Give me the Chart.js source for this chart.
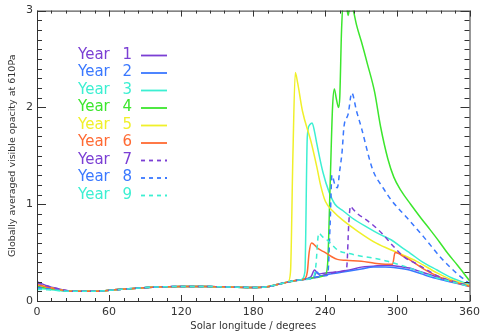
<!DOCTYPE html>
<html>
<head>
<meta charset="utf-8">
<script src="https://cdn.jsdelivr.net/npm/chart.js@4/dist/chart.umd.min.js"></script>
<style>
  html, body { margin: 0; padding: 0; background: #ffffff; }
  #wrap { width: 485px; height: 333px; position: relative; }
</style>
</head>
<body>
<div id="wrap"><canvas id="opacityChart"></canvas></div>
<script>
// Solar longitude (degrees) and opacity for each Mars year
const ls1 = [0, 10, 20, 30, 45, 60, 80, 100, 120, 140, 160, 180, 190, 200, 210, 220, 228, 231, 234, 240, 250, 260, 270, 280, 290, 300, 310, 320, 330, 340, 350, 360];
const op1 = [0.2, 0.15, 0.12, 0.1, 0.1, 0.11, 0.13, 0.145, 0.15, 0.15, 0.145, 0.14, 0.145, 0.17, 0.2, 0.22, 0.25, 0.32, 0.28, 0.29, 0.3, 0.32, 0.35, 0.36, 0.37, 0.36, 0.34, 0.3, 0.26, 0.22, 0.19, 0.16];

const ls2 = [0, 10, 20, 30, 45, 60, 80, 100, 120, 140, 160, 180, 190, 200, 210, 220, 230, 233, 236, 240, 250, 260, 270, 280, 290, 300, 310, 320, 330, 340, 350, 360];
const op2 = [0.15, 0.13, 0.11, 0.1, 0.1, 0.11, 0.13, 0.145, 0.15, 0.15, 0.145, 0.14, 0.145, 0.17, 0.2, 0.22, 0.24, 0.3, 0.26, 0.27, 0.29, 0.31, 0.33, 0.35, 0.35, 0.34, 0.32, 0.28, 0.24, 0.21, 0.18, 0.15];

const ls3 = [0, 10, 20, 30, 45, 60, 80, 100, 120, 140, 160, 180, 190, 200, 210, 220, 223, 225, 227, 229, 231, 233, 238, 243, 248, 255, 262, 275, 285, 295, 305, 311, 320, 333, 345, 360];
const op3 = [0.13, 0.12, 0.105, 0.1, 0.1, 0.11, 0.13, 0.145, 0.15, 0.15, 0.145, 0.14, 0.145, 0.17, 0.2, 0.22, 0.3, 1.7, 1.82, 1.84, 1.75, 1.62, 1.33, 1.13, 1.0, 0.93, 0.86, 0.76, 0.69, 0.63, 0.54, 0.49, 0.41, 0.32, 0.24, 0.17];

const ls4 = [0, 10, 20, 30, 45, 60, 80, 100, 120, 140, 160, 180, 190, 200, 210, 220, 230, 240, 242, 244, 246, 247.5, 249, 251, 252, 253.5, 255, 257, 259, 261, 263, 266, 270, 275, 281, 286, 292, 297, 303, 311, 320, 327, 335, 342, 350, 355, 360];
const op4 = [0.15, 0.13, 0.11, 0.1, 0.1, 0.11, 0.13, 0.145, 0.15, 0.15, 0.145, 0.14, 0.145, 0.17, 0.2, 0.22, 0.24, 0.27, 0.4, 1.2, 2.0, 2.19, 2.1, 2.0, 2.1, 2.8, 3.1, 3.1, 2.95, 3.1, 3.02, 2.85, 2.68, 2.45, 2.16, 1.8, 1.47, 1.28, 1.14, 1.0, 0.85, 0.74, 0.61, 0.49, 0.37, 0.29, 0.21];

const ls5 = [0, 10, 20, 30, 45, 60, 80, 100, 120, 140, 160, 180, 190, 200, 209, 211, 213, 215, 217, 221, 228, 233, 236, 240, 247, 254, 267, 282, 300, 316, 333, 345, 360];
const op5 = [0.17, 0.14, 0.115, 0.1, 0.1, 0.11, 0.13, 0.145, 0.15, 0.15, 0.145, 0.14, 0.145, 0.17, 0.2, 0.3, 1.5, 2.36, 2.25, 1.96, 1.65, 1.38, 1.2, 1.03, 0.92, 0.84, 0.72, 0.6, 0.5, 0.41, 0.29, 0.22, 0.16];

const ls6 = [0, 10, 20, 30, 45, 60, 80, 100, 120, 140, 160, 180, 190, 200, 210, 220, 223, 225, 226.5, 228.5, 234, 240, 245, 250, 257, 270, 281, 290, 296, 298, 301, 305, 311, 322, 333, 344, 360];
const op6 = [0.17, 0.14, 0.115, 0.1, 0.1, 0.11, 0.13, 0.145, 0.15, 0.15, 0.145, 0.14, 0.145, 0.17, 0.2, 0.22, 0.23, 0.3, 0.5, 0.6, 0.54, 0.5, 0.46, 0.43, 0.42, 0.41, 0.39, 0.38, 0.38, 0.5, 0.49, 0.46, 0.42, 0.33, 0.26, 0.21, 0.15];

const ls7 = [0, 10, 20, 30, 45, 60, 80, 100, 120, 140, 160, 180, 190, 200, 210, 220, 230, 240, 250, 257, 258, 259.5, 261, 263, 267, 275, 281, 287, 297, 306, 315, 322, 335, 350, 360];
const op7 = [0.19, 0.15, 0.12, 0.1, 0.1, 0.11, 0.13, 0.145, 0.15, 0.15, 0.145, 0.14, 0.145, 0.17, 0.2, 0.22, 0.24, 0.27, 0.3, 0.32, 0.37, 0.8, 0.98, 0.95, 0.9, 0.83, 0.77, 0.7, 0.56, 0.45, 0.39, 0.34, 0.25, 0.19, 0.16];

const ls8 = [0, 10, 20, 30, 45, 60, 80, 100, 120, 140, 160, 180, 190, 200, 210, 220, 230, 240, 242, 244, 245.5, 248, 250, 252, 254, 255.5, 259, 262, 266, 270, 278, 281, 288, 295, 308, 322, 336, 349, 360];
const op8 = [0.14, 0.125, 0.11, 0.1, 0.1, 0.11, 0.13, 0.145, 0.15, 0.15, 0.145, 0.14, 0.145, 0.17, 0.2, 0.22, 0.24, 0.26, 0.27, 0.8, 1.3, 1.2, 1.17, 1.35, 1.55, 1.8, 1.93, 2.15, 1.96, 1.79, 1.41, 1.31, 1.17, 1.04, 0.86, 0.66, 0.45, 0.29, 0.18];

const ls9 = [0, 10, 20, 30, 45, 60, 80, 100, 120, 140, 160, 180, 190, 200, 210, 220, 230, 232, 234.5, 238, 241.5, 251, 260, 267, 281, 292, 303, 315, 330, 345, 360];
const op9 = [0.12, 0.115, 0.105, 0.1, 0.1, 0.11, 0.13, 0.145, 0.15, 0.15, 0.145, 0.14, 0.145, 0.17, 0.2, 0.22, 0.24, 0.35, 0.7, 0.66, 0.63, 0.52, 0.49, 0.47, 0.44, 0.41, 0.37, 0.32, 0.25, 0.2, 0.15];

const yearLabels = ['Year 1', 'Year 2', 'Year 3', 'Year 4', 'Year 5', 'Year 6', 'Year 7', 'Year 8', 'Year 9'];
const yearLs = [ls1, ls2, ls3, ls4, ls5, ls6, ls7, ls8, ls9];
const yearOpacity = [op1, op2, op3, op4, op5, op6, op7, op8, op9];

const xTicks = [0, 60, 120, 180, 240, 300, 360];
const yTicks = [0, 1, 2, 3];

const PURPLE = '#7b3fd4';
const BLUE = '#3a78ff';
const CYAN = '#3cefd2';
const GREEN = '#3ce62d';
const YELLOW = '#f0f02a';
const ORANGE = '#ff6a33';
const yearColors = [PURPLE, BLUE, CYAN, GREEN, YELLOW, ORANGE, PURPLE, BLUE, CYAN];
const yearDashed = [false, false, false, false, false, false, true, true, true];

const datasets = yearLabels.map((label, i) => ({
    label: label,
    data: yearLs[i].map((ls, j) => ({ x: ls, y: yearOpacity[i][j] })),
    borderColor: yearColors[i],
    backgroundColor: yearColors[i],
    borderWidth: 1.5,
    borderDash: yearDashed[i] ? [5, 4] : [],
    pointRadius: 0,
    fill: false,
    cubicInterpolationMode: 'monotone',
    order: 9 - i // later years drawn on top
}));

// Frame with inward ticks on all four sides (IDL style)
const frameTicks = {
    id: 'frameTicks',
    afterDraw(chart) {
        const { ctx, chartArea: a, scales } = chart;
        const xs = scales.x, ys = scales.y;
        ctx.save();
        ctx.strokeStyle = '#333333';
        ctx.lineWidth = 1;
        ctx.strokeRect(a.left + 0.5, a.top + 0.5, a.right - a.left, a.bottom - a.top);
        ctx.beginPath();
        for (let v = 0; v <= 360; v += 12) {
            const px = Math.round(xs.getPixelForValue(v)) + 0.5;
            const len = v % 60 === 0 ? 6 : 3;
            ctx.moveTo(px, a.bottom); ctx.lineTo(px, a.bottom - len);
            ctx.moveTo(px, a.top); ctx.lineTo(px, a.top + len);
        }
        for (let k = 0; k <= 30; k++) {
            const py = Math.round(ys.getPixelForValue(k / 10)) + 0.5;
            const len = k % 10 === 0 ? 9 : 5;
            ctx.moveTo(a.left, py); ctx.lineTo(a.left + len, py);
            ctx.moveTo(a.right, py); ctx.lineTo(a.right - len, py);
        }
        ctx.stroke();
        ctx.restore();
    }
};

// Legend: coloured text followed by a line sample
const yearLegend = {
    id: 'yearLegend',
    afterDraw(chart) {
        const ctx = chart.ctx;
        ctx.save();
        ctx.font = '15px "DejaVu Sans"';
        ctx.textBaseline = 'middle';
        ctx.wordSpacing = '8px';
        chart.data.datasets.forEach((ds, i) => {
            const y = 55 + i * 17.5;
            ctx.fillStyle = ds.borderColor;
            ctx.fillText(ds.label, 78, y);
            ctx.beginPath();
            ctx.strokeStyle = ds.borderColor;
            ctx.lineWidth = 1.8;
            ctx.setLineDash(ds.borderDash.length ? [4, 4] : []);
            ctx.moveTo(141, y + 0.5);
            ctx.lineTo(167, y + 0.5);
            ctx.stroke();
        });
        ctx.restore();
    }
};

new Chart(document.getElementById('opacityChart'), {
    type: 'line',
    data: { datasets: datasets },
    options: {
        responsive: true,
        maintainAspectRatio: false,
        animation: false,
        layout: { padding: { top: 7, right: 9, left: 0, bottom: 0 } },
        plugins: {
            legend: { display: false },
            tooltip: { enabled: false }
        },
        scales: {
            x: {
                type: 'linear',
                min: 0,
                max: 360,
                afterFit: (s) => { s.height = 32; },
                afterBuildTicks: (s) => { s.ticks = xTicks.map(v => ({ value: v })); },
                grid: { display: false, drawTicks: false },
                border: { display: false },
                ticks: {
                    padding: 5,
                    color: '#333333',
                    font: { family: '"DejaVu Sans"', size: 11 },
                    maxRotation: 0
                },
                title: {
                    display: true,
                    text: 'Solar longitude / degrees',
                    color: '#333333',
                    font: { family: '"DejaVu Sans"', size: 10 },
                    padding: { top: 0, bottom: 1 }
                }
            },
            y: {
                type: 'linear',
                min: 0,
                max: 3,
                afterFit: (s) => { s.width = 37; },
                afterBuildTicks: (s) => { s.ticks = yTicks.map(v => ({ value: v })); },
                grid: { display: false, drawTicks: false },
                border: { display: false },
                ticks: {
                    padding: 4,
                    color: '#333333',
                    font: { family: '"DejaVu Sans"', size: 11 }
                },
                title: {
                    display: true,
                    text: 'Globally averaged visible opacity at 610Pa',
                    color: '#333333',
                    font: { family: '"DejaVu Sans"', size: 9.5 },
                    padding: { top: 7, bottom: 0 }
                }
            }
        }
    },
    plugins: [frameTicks, yearLegend]
});
</script>
</body>
</html>
